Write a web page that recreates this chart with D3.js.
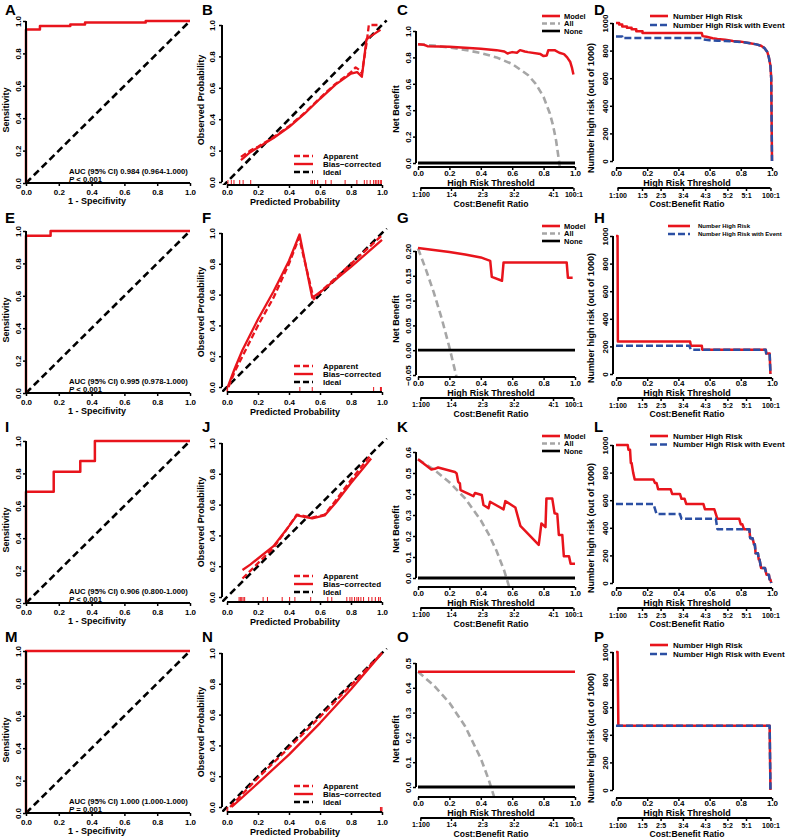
<!DOCTYPE html>
<html><head><meta charset="utf-8">
<script src="https://cdn.jsdelivr.net/npm/d3@7"></script>
<style>body{margin:0;background:#fff}svg{display:block}text{font-family:"Liberation Sans",Arial,Helvetica,sans-serif;fill:#000}</style>
</head><body><svg id="c" width="786" height="839"></svg>
<script>
// ===== DATA =====
const probTicks=[0,0.2,0.4,0.6,0.8,1];
const nhrTicks=[0,200,400,600,800,1000];
const cbLabels6=["1:100","1:4","2:3","3:2","4:1","100:1"];
const cbAt6=[0.015,0.21,0.41,0.61,0.86,0.99];
const cbLabels8=["1:100","1:5","2:5","3:4","4:3","5:2","5:1","100:1"];
const cbAt8=[0.0099,0.1667,0.2857,0.4286,0.5714,0.7143,0.8333,0.9901];

// ROC
const rocA_fpr=[0,0,0.085,0.085,0.27,0.27,0.36,0.36,0.73,0.73,1];
const rocA_tpr=[0,0.948,0.948,0.969,0.969,0.979,0.979,0.99,0.99,1,1];
const rocE_fpr=[0,0,0.15,0.15,1];
const rocE_tpr=[0,0.97,0.97,1,1];
const rocI_fpr=[0,0,0.169,0.169,0.331,0.331,0.42,0.42,1];
const rocI_tpr=[0,0.686,0.686,0.81,0.81,0.877,0.877,1,1];
const rocM_fpr=[0,0,1];
const rocM_tpr=[0,1,1];
const aucLabels=["AUC (95% CI) 0.984 (0.964-1.000)","AUC (95% CI) 0.995 (0.978-1.000)","AUC (95% CI) 0.906 (0.800-1.000)","AUC (95% CI) 1.000 (1.000-1.000)"];
const pLabels=[" < 0.001"," < 0.001"," < 0.001"," = 0.001"];

// Calibration
const calB_appX=[0.09,0.15,0.2,0.3,0.4,0.5,0.6,0.7,0.8,0.83,0.86,0.87,0.9,0.915,0.99];
const calB_appY=[0.16,0.2,0.225,0.285,0.355,0.44,0.535,0.625,0.7,0.73,0.71,0.69,0.88,1.0,1.0];
const calB_bcX=[0.09,0.15,0.2,0.3,0.4,0.5,0.6,0.7,0.8,0.84,0.87,0.9,0.96,0.99];
const calB_bcY=[0.14,0.19,0.22,0.28,0.35,0.435,0.53,0.62,0.69,0.7,0.67,0.91,0.95,0.97];
const calB_rug=[0.006,0.028,0.045,0.082,0.104,0.153,0.542,0.551,0.564,0.585,0.637,0.672,0.762,0.838,0.886,0.903,0.924,0.946,0.957,0.967,0.978,0.989,0.996];
const calF_appX=[0.01,0.05,0.1,0.2,0.3,0.4,0.465,0.56,0.6,0.8,1.0];
const calF_appY=[0.0,0.1,0.2,0.4,0.58,0.8,0.97,0.57,0.615,0.8,0.985];
const calF_bcX=[0.005,0.05,0.1,0.2,0.3,0.4,0.468,0.55,0.6,0.8,1.0];
const calF_bcY=[0.0,0.12,0.24,0.44,0.62,0.82,0.99,0.58,0.615,0.78,0.955];
const calF_rug=[0.0,0.004,0.47,0.55,0.946,0.99,0.996];
const calJ_appX=[0.1,0.15,0.2,0.3,0.4,0.45,0.5,0.55,0.63,0.7,0.8,0.93];
const calJ_appY=[0.12,0.17,0.22,0.32,0.46,0.535,0.525,0.515,0.535,0.625,0.76,0.925];
const calJ_bcX=[0.1,0.15,0.2,0.3,0.4,0.45,0.5,0.55,0.63,0.7,0.8,0.93];
const calJ_bcY=[0.175,0.21,0.25,0.33,0.46,0.53,0.52,0.51,0.53,0.61,0.74,0.9];
const calJ_rug=[0.078,0.086,0.095,0.104,0.114,0.233,0.261,0.356,0.404,0.438,0.54,0.65,0.676,0.773,0.793,0.806,0.823,0.838,0.849,0.864,0.881,0.914,0.935,0.957,0.978,0.989];
const calN_appX=[0.02,0.2,0.4,0.6,0.8,1.0];
const calN_appY=[0.0,0.19,0.385,0.585,0.79,1.0];
const calN_bcX=[0.03,0.2,0.4,0.6,0.8,1.0];
const calN_bcY=[0.0,0.155,0.34,0.545,0.765,1.0];
const calN_rug=[0.0,0.005,0.99,0.995,1.0];
const idealLine=[-0.03,1.03];

// Decision curves
const dcaC_t=[0,0.04,0.06,0.2,0.4,0.5,0.55,0.57,0.6,0.63,0.65,0.68,0.7,0.78,0.8,0.82,0.83,0.87,0.9,0.93,0.95,0.97,0.98,0.99];
const dcaC_model=[0.9,0.895,0.885,0.88,0.865,0.855,0.845,0.83,0.84,0.835,0.855,0.845,0.84,0.825,0.81,0.815,0.855,0.855,0.835,0.825,0.8,0.765,0.725,0.67];
const dcaC_allT=[0,0.1,0.2,0.3,0.4,0.5,0.6,0.7,0.75,0.8,0.84,0.86,0.88,0.9,0.92];
const dcaC_all=[0.9,0.889,0.875,0.857,0.833,0.8,0.75,0.667,0.6,0.5,0.375,0.286,0.167,0.0,-0.25];
const dcaG_t=[0,0.1,0.2,0.3,0.4,0.46,0.47,0.535,0.545,0.947,0.955,0.985];
const dcaG_model=[0.206,0.202,0.198,0.193,0.187,0.18,0.148,0.14,0.177,0.177,0.146,0.146];
const dcaG_allT=[0,0.05,0.1,0.15,0.2,0.25];
const dcaG_all=[0.205,0.163,0.117,0.065,0.006,-0.06];
const dcaK_t=[0,0.085,0.107,0.128,0.235,0.246,0.256,0.267,0.271,0.353,0.363,0.406,0.417,0.449,0.459,0.545,0.556,0.62,0.652,0.769,0.786,0.812,0.818,0.855,0.87,0.887,0.897,0.919,0.929,0.962,0.972,1.0];
const dcaK_model=[0.565,0.517,0.52,0.526,0.505,0.498,0.458,0.45,0.419,0.39,0.405,0.395,0.348,0.332,0.363,0.327,0.366,0.336,0.248,0.158,0.26,0.242,0.379,0.379,0.308,0.305,0.205,0.205,0.103,0.103,0.068,0.068];
const dcaK_allT=[0,0.1,0.2,0.3,0.4,0.45,0.5,0.55,0.6];
const dcaK_all=[0.565,0.517,0.456,0.379,0.275,0.209,0.13,0.033,-0.09];
const dcaO_t=[0,1];
const dcaO_model=[0.465,0.465];
const dcaO_allT=[0,0.1,0.2,0.3,0.4,0.45,0.5];
const dcaO_all=[0.465,0.41,0.34,0.245,0.115,0.03,-0.07];

// Number high risk
const nhrD_redT=[0,0.02,0.02,0.04,0.04,0.07,0.07,0.1,0.1,0.13,0.13,0.17,0.17,0.55,0.555,0.58,0.6,0.62,0.65,0.7,0.75,0.8,0.85,0.9,0.93,0.95,0.97,0.98,0.99,0.995,1.0];
const nhrD_redN=[1000,1000,990,990,975,975,965,965,955,955,940,940,927,927,905,900,895,890,885,878,870,865,855,845,835,820,790,750,690,600,0];
const nhrD_blueT=[0,0.04,0.04,0.55,0.56,0.6,0.65,0.7,0.75,0.8,0.85,0.9,0.93,0.95,0.97,0.98,0.99,0.995,1.0];
const nhrD_blueN=[903,903,891,891,880,875,872,870,867,863,855,845,835,820,790,750,690,600,0];
const nhrH_redT=[0,0.01,0.012,0.475,0.48,0.55,0.553,0.96,0.963,0.985,0.99];
const nhrH_redN=[1000,1000,236,236,205,205,176,176,148,148,0];
const nhrH_blueT=[0,0.47,0.48,0.96,0.963,0.985,0.99];
const nhrH_blueN=[205,205,176,176,148,148,0];
const nhrL_redT=[0,0.075,0.08,0.09,0.095,0.1,0.11,0.12,0.24,0.25,0.26,0.27,0.35,0.36,0.41,0.42,0.44,0.45,0.56,0.57,0.63,0.65,0.79,0.8,0.81,0.82,0.855,0.86,0.875,0.885,0.89,0.895,0.91,0.915,0.92,0.93,0.955,0.965,0.98,0.985,0.99,0.995];
const nhrL_redN=[1000,1000,965,965,870,870,800,750,750,725,725,680,680,645,645,610,610,573,573,535,535,465,465,425,425,390,390,325,325,280,280,215,215,170,170,108,108,60,60,25,25,0];
const nhrL_blueT=[0,0.24,0.26,0.41,0.42,0.64,0.65,0.855,0.86,0.875,0.885,0.89,0.895,0.91,0.915,0.92,0.93,0.955,0.965,0.98,0.985,0.99,0.995];
const nhrL_blueN=[573,573,500,500,465,465,390,390,325,325,280,280,215,215,170,170,108,108,60,60,25,25,0];
const nhrP_redT=[0,0.01,0.015,0.985,0.99];
const nhrP_redN=[1000,1000,465,465,0];
const nhrP_blueT=[0,0.985,0.99];
const nhrP_blueN=[465,465,0];

// ===== DRAWING =====
const RED="#e8141c", BLUE="#2b4fa3", GRAY="#a6a6a6";
const colX=[0,195,390,585], rowY=[0,210,420,630];
const letterX=[5,7,7,9], letterBase=[15,13,12,12];
const svg=d3.select("#c");
let clipN=0;
const zip=(a,b)=>a.map((v,i)=>[v,b[i]]);

function cell(c,r,letter){
  const g=svg.append("g").attr("transform",`translate(${colX[c]},${rowY[r]})`);
  g.append("text").attr("x",letterX[c]).attr("y",letterBase[r]).attr("font-size",15).attr("font-weight","bold").text(letter);
  return g;
}
function clip(g,x0,y0,x1,y1){
  const id="cp"+(clipN++);
  g.append("clipPath").attr("id",id).append("rect").attr("x",x0).attr("y",y0).attr("width",x1-x0).attr("height",y1-y0);
  return id;
}
function drawPath(g,pts,x,y,stroke,w,dash,cid){
  const p=g.append("path").attr("d",d3.line().x(d=>x(d[0])).y(d=>y(d[1]))(pts))
    .attr("fill","none").attr("stroke",stroke).attr("stroke-width",w).attr("stroke-linejoin","round");
  if(dash)p.attr("stroke-dasharray",dash);
  if(cid)p.attr("clip-path",`url(#${cid})`);
  return p;
}
function xAxis(g,x,y0,vals,labels,labelCY,fs){
  const ax=d3.axisBottom(x).tickValues(vals).tickFormat((d,i)=>labels[i]).tickSize(3).tickSizeOuter(0);
  const a=g.append("g").attr("transform",`translate(0,${y0})`).call(ax);
  a.select(".domain").attr("stroke-width",2).attr("d",`M${x(vals[0])},0H${x(vals[vals.length-1])}`);
  a.selectAll(".tick line").attr("stroke-width",1.5);
  a.selectAll("text").attr("font-size",fs||8).attr("font-weight","bold").attr("y",labelCY-y0).attr("dy","0.35em");
}
function yAxis(g,y,x0,vals,labels,labelCX){
  const ax=d3.axisLeft(y).tickValues(vals).tickFormat((d,i)=>labels[i]).tickSize(3).tickSizeOuter(0);
  const a=g.append("g").attr("transform",`translate(${x0},0)`).call(ax);
  a.select(".domain").attr("stroke-width",2).attr("d",`M0,${y(vals[0])}V${y(vals[vals.length-1])}`);
  a.selectAll(".tick line").attr("stroke-width",1.5);
  a.selectAll("text").attr("transform","rotate(-90)").attr("x",0).attr("y",labelCX-x0).attr("dy","0.35em").attr("text-anchor","middle").attr("font-size",8).attr("font-weight","bold");
}
function xTitle(g,cx,base,txt,fs){g.append("text").attr("x",cx).attr("y",base).attr("text-anchor","middle").attr("font-weight","bold").attr("font-size",fs||9).text(txt);}
function yTitle(g,cx,cy,txt){g.append("text").attr("transform",`translate(${cx},${cy}) rotate(-90)`).attr("dy","0.35em").attr("text-anchor","middle").attr("font-weight","bold").attr("font-size",9).text(txt);}
const fmt1=d3.format(".1f");
const probLabels=probTicks.map(fmt1);

// ---- ROC panels ----
function rocPanel(r,letter,fpr,tpr,idx){
  const g=cell(0,r,letter);
  const x=d3.scaleLinear([0,1],[26,190]), y=d3.scaleLinear([0,1],[183,21]);
  drawPath(g,[[0,0],[1,1]],x,y,"#000",2.6,"7,4");
  drawPath(g,zip(fpr,tpr),x,y,RED,2.5);
  yAxis(g,y,26,probTicks,probLabels,18);
  xAxis(g,x,183,probTicks,probLabels,192.5);
  yTitle(g,6,110,"Sensitivity");
  xTitle(g,97,204,"1 - Specifivity");
  g.append("text").attr("x",69).attr("y",174).attr("font-size",7.7).attr("font-weight","bold").text(aucLabels[idx]);
  const t=g.append("text").attr("x",69).attr("y",181.5).attr("font-size",7.7).attr("font-weight","bold");
  t.append("tspan").attr("font-style","italic").text("P");
  t.append("tspan").text(pLabels[idx]);
}
rocPanel(0,"A",rocA_fpr,rocA_tpr,0);
rocPanel(1,"E",rocE_fpr,rocE_tpr,1);
rocPanel(2,"I",rocI_fpr,rocI_tpr,2);
rocPanel(3,"M",rocM_fpr,rocM_tpr,3);

// ---- Calibration panels ----
function calPanel(r,letter,ax,ay,bx,by,rug,yr,axY,ytc){
  const g=cell(1,r,letter);
  const x=d3.scaleLinear([0,1],[32,187]), y=d3.scaleLinear([0,1],yr);
  const cid=clip(g,27,18,193,axY);
  drawPath(g,[[idealLine[0],idealLine[0]],[idealLine[1],idealLine[1]]],x,y,"#000",2.6,"7,4",cid);
  drawPath(g,zip(bx,by),x,y,RED,2.3);
  drawPath(g,zip(ax,ay),x,y,RED,2.3,"6,3");
  g.append("g").selectAll("line").data(rug).join("line")
    .attr("x1",d=>x(d)).attr("x2",d=>x(d)).attr("y1",axY).attr("y2",axY-5).attr("stroke",RED).attr("stroke-width",1);
  yAxis(g,y,27,probTicks,probLabels,17);
  xAxis(g,x,axY,probTicks,probLabels,192.5);
  yTitle(g,6,ytc,"Observed Probability");
  xTitle(g,100,204.5,"Predicted Probability");
  const leg=[["Apparent",RED,"6,3"],["Bias\u2212corrected",RED,null],["Ideal","#000","6,3"]];
  leg.forEach((l,i)=>{
    const yy=156+i*8;
    const ln=g.append("line").attr("x1",99).attr("x2",118).attr("y1",yy).attr("y2",yy).attr("stroke",l[1]).attr("stroke-width",2.4);
    if(l[2])ln.attr("stroke-dasharray",l[2]);
    g.append("text").attr("x",128).attr("y",yy).attr("dy","0.35em").attr("font-size",8).attr("font-weight","bold").text(l[0]);
  });
}
calPanel(0,"B",calB_appX,calB_appY,calB_bcX,calB_bcY,calB_rug,[182,25],185,100);
calPanel(1,"F",calF_appX,calF_appY,calF_bcX,calF_bcY,calF_rug,[177,23],182,102);
calPanel(2,"J",calJ_appX,calJ_appY,calJ_bcX,calJ_bcY,calJ_rug,[177,23],182,102);
calPanel(3,"N",calN_appX,calN_appY,calN_bcX,calN_bcY,calN_rug,[177,23],182,102);

// ---- Decision curve panels ----
function dcaPanel(r,letter,mt,mv,at,av,ydom,yr,yticks,yfmt,legend){
  const g=cell(2,r,letter);
  const x=d3.scaleLinear([0,1],[28,185]), y=d3.scaleLinear(ydom,yr);
  const cid=clip(g,26,14,190,167);
  drawPath(g,zip(at,av),x,y,GRAY,2.6,"7,4",cid);
  drawPath(g,[[0,0],[1,0]],x,y,"#000",2.8);
  drawPath(g,zip(mt,mv),x,y,RED,2.5,null,cid);
  yAxis(g,y,26,yticks,yticks.map(d3.format(yfmt)),18);
  xAxis(g,x,167,probTicks,probLabels,173);
  xTitle(g,101,186,"High Risk Threshold");
  xAxis(g,x,188,cbAt6,cbLabels6,195,7);
  xTitle(g,101,207,"Cost:Benefit Ratio",8.6);
  yTitle(g,6,109,"Net Benefit");
  if(legend){
    const leg=[["Model",RED,null],["All",GRAY,"5,3"],["None","#000",null]];
    leg.forEach((l,i)=>{
      const yy=16+i*7.5;
      const ln=g.append("line").attr("x1",152).attr("x2",170).attr("y1",yy).attr("y2",yy).attr("stroke",l[1]).attr("stroke-width",2.6);
      if(l[2])ln.attr("stroke-dasharray",l[2]);
      g.append("text").attr("x",174).attr("y",yy).attr("dy","0.35em").attr("font-size",7.5).attr("font-weight","bold").text(l[0]);
    });
  }
}
dcaPanel(0,"C",dcaC_t,dcaC_model,dcaC_allT,dcaC_all,[0,1],[163,31],[0,0.2,0.4,0.6,0.8,1],".1f",true);
dcaPanel(1,"G",dcaG_t,dcaG_model,dcaG_allT,dcaG_all,[-0.05,0.2],[165,41],[-0.05,0,0.05,0.1,0.15,0.2],".2f",true);
dcaPanel(2,"K",dcaK_t,dcaK_model,dcaK_allT,dcaK_all,[0,0.6],[158,32],[0,0.1,0.2,0.3,0.4,0.5,0.6],".1f",true);
dcaPanel(3,"O",dcaO_t,dcaO_model,dcaO_allT,dcaO_all,[0,0.5],[157,33],[0,0.1,0.2,0.3,0.4,0.5],".1f",false);

// ---- Number high risk panels ----
function nhrPanel(r,letter,rt,rn,bt,bn,yr,leg){
  const g=cell(3,r,letter);
  const x=d3.scaleLinear([0,1],[31,187]), y=d3.scaleLinear([0,1000],yr);
  drawPath(g,zip(rt,rn),x,y,RED,2.5);
  drawPath(g,zip(bt,bn),x,y,BLUE,2.5,"7,3");
  yAxis(g,y,28,nhrTicks,nhrTicks.map(String),20);
  xAxis(g,x,168,probTicks,probLabels,173.5);
  xTitle(g,102,186,"High Risk Threshold");
  xAxis(g,x,188,cbAt8,cbLabels8,195.5,7);
  xTitle(g,102,207.3,"Cost:Benefit Ratio",8.6);
  yTitle(g,6,108,"Number high risk (out of 1000)");
  const items=[["Number High Risk",RED,null],["Number High Risk with Event",BLUE,"7,3"]];
  items.forEach((l,i)=>{
    const yy=leg.y0+i*leg.dy;
    const ln=g.append("line").attr("x1",leg.x0).attr("x2",leg.x1).attr("y1",yy).attr("y2",yy).attr("stroke",l[1]).attr("stroke-width",2.6);
    if(l[2])ln.attr("stroke-dasharray",l[2]);
    g.append("text").attr("x",leg.tx).attr("y",yy).attr("dy","0.35em").attr("font-size",leg.fs).attr("font-weight","bold").text(l[0]);
  });
}
nhrPanel(0,"D",nhrD_redT,nhrD_redN,nhrD_blueT,nhrD_blueN,[161,23],{x0:65,x1:83,tx:88,y0:16,dy:9,fs:8});
nhrPanel(1,"H",nhrH_redT,nhrH_redN,nhrH_blueT,nhrH_blueN,[164,26],{x0:83,x1:105,tx:113,y0:16,dy:8,fs:6});
nhrPanel(2,"L",nhrL_redT,nhrL_redN,nhrL_blueT,nhrL_blueN,[163,25],{x0:65,x1:83,tx:88,y0:16,dy:8.5,fs:8});
nhrPanel(3,"P",nhrP_redT,nhrP_redN,nhrP_blueT,nhrP_blueN,[160,22],{x0:65,x1:83,tx:88,y0:15,dy:9,fs:8});
</script></body></html>
